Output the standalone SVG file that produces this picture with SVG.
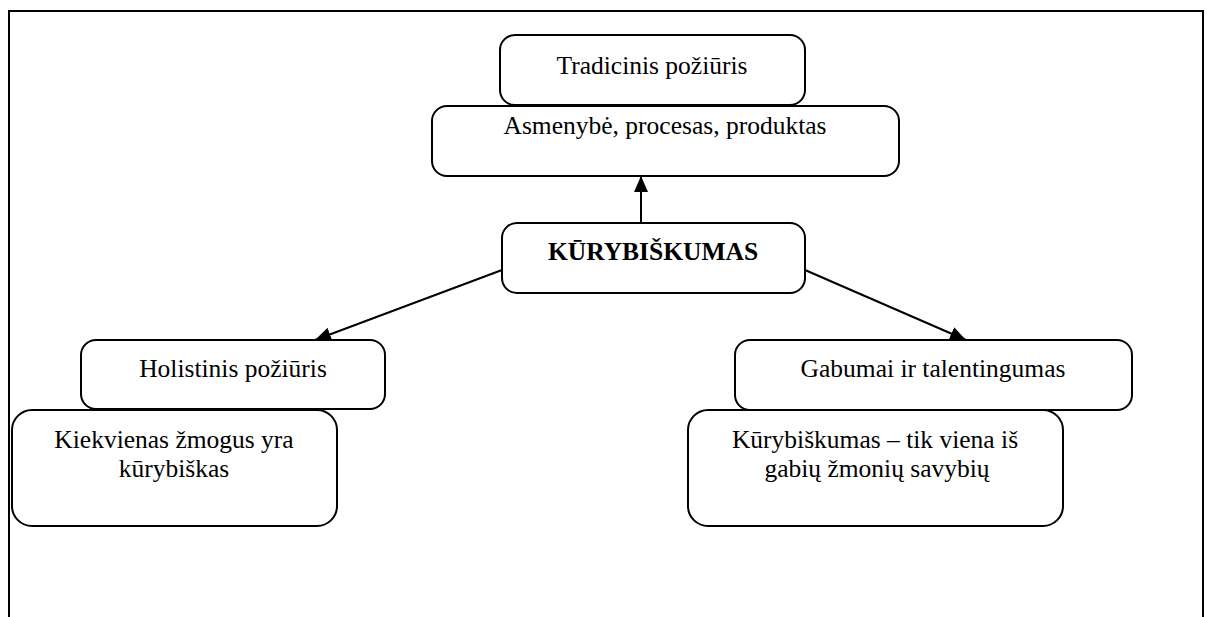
<svg xmlns="http://www.w3.org/2000/svg" width="1207" height="617" viewBox="0 0 1207 617">
<style>
.box{fill:#fff;stroke:#000;stroke-width:2}
.t{font-family:"Liberation Serif","Times New Roman",serif;font-size:25.5px;fill:#000;text-anchor:middle}
.b{font-weight:bold}
.edge{stroke:#000;stroke-width:2;fill:none;marker-end:url(#ah)}
</style>
<defs>
<marker id="ah" viewBox="0 0 16 14" refX="16" refY="7" markerWidth="16" markerHeight="14" markerUnits="userSpaceOnUse" orient="auto">
<path d="M0,0 L16,7 L0,14 Z" fill="#000"/>
</marker>
</defs>
<rect width="1207" height="617" fill="#fff"/>
<path d="M9,617 V11 H1203 V617" fill="none" stroke="#000" stroke-width="2"/>
<g id="connectors">
<line class="edge" x1="641" y1="223" x2="641" y2="176"/>
<line class="edge" x1="502" y1="270" x2="315" y2="340"/>
<line class="edge" x1="805" y1="270" x2="966" y2="340"/>
</g>
<g id="tradicinis">
<rect class="box" x="500" y="35" width="305" height="70" rx="15"/>
<text class="t" x="652" y="74">Tradicinis požiūris</text>
</g>
<g id="asmenybe">
<rect class="box" x="432" y="106" width="467" height="70" rx="15"/>
<text class="t" x="665" y="134">Asmenybė, procesas, produktas</text>
</g>
<g id="kurybiskumas">
<rect class="box" x="502" y="223" width="303" height="70" rx="15"/>
<text class="t b" x="653" y="260">KŪRYBIŠKUMAS</text>
</g>
<g id="holistinis">
<rect class="box" x="81" y="340" width="304" height="69" rx="15"/>
<text class="t" x="233" y="377">Holistinis požiūris</text>
</g>
<g id="kiekvienas">
<rect class="box" x="12" y="410" width="325" height="116" rx="20"/>
<text class="t" x="174" y="448">Kiekvienas žmogus yra</text>
<text class="t" x="174" y="477">kūrybiškas</text>
</g>
<g id="gabumai">
<rect class="box" x="735" y="340" width="397" height="70" rx="15"/>
<text class="t" x="933" y="377">Gabumai ir talentingumas</text>
</g>
<g id="kurybiskumas-savybe">
<rect class="box" x="688" y="410" width="375" height="116" rx="20"/>
<text class="t" x="875" y="448">Kūrybiškumas – tik viena iš</text>
<text class="t" x="877" y="477">gabių žmonių savybių</text>
</g>
</svg>
